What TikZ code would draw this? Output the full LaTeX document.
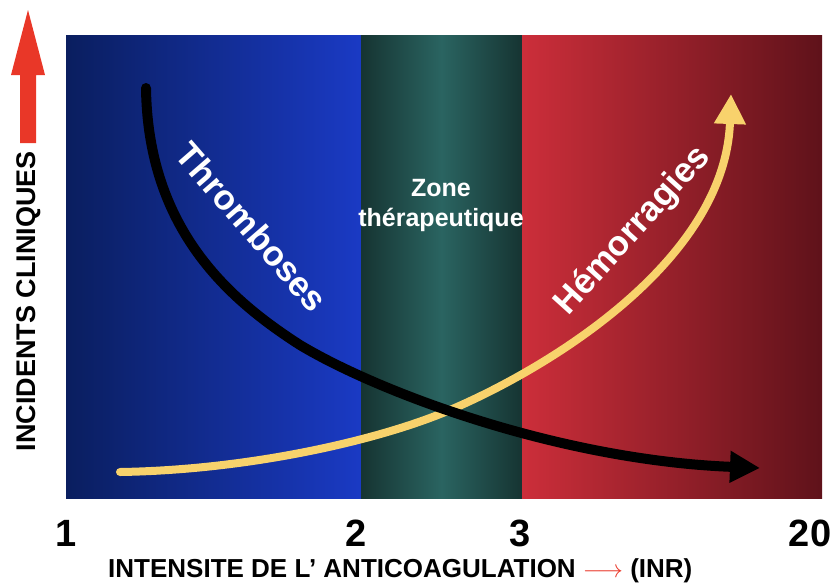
\documentclass[tikz,border=0pt]{standalone}
\usepackage{fontspec}
\setmainfont{Liberation Sans}
\usepackage{tikz}
\usetikzlibrary{arrows.meta}
\definecolor{BleuFonce}{RGB}{10,30,95}
\definecolor{BleuClair}{RGB}{26,58,196}
\definecolor{VertBord}{RGB}{22,52,50}
\definecolor{VertMilieu}{RGB}{42,100,97}
\definecolor{RougeClair}{RGB}{204,46,58}
\definecolor{RougeFonce}{RGB}{95,18,26}
\definecolor{Jaune}{RGB}{248,210,108}
\definecolor{RougeFleche}{RGB}{233,55,40}

\begin{document}
\begin{tikzpicture}[x=1pt, y=-1pt, >={Triangle[length=30pt,width=30pt]},
	legende/.style={text=white, font=\bfseries\fontsize{35}{40}\selectfont},
	graduation/.style={font=\bfseries\fontsize{38}{40}\selectfont}]
			\useasboundingbox (0,0) rectangle (840,584);
			\shade[left color=BleuFonce, right color=BleuClair] (66,35) rectangle (361,498);
			\shade[left color=VertBord, right color=VertBord, middle color=VertMilieu] (361,35) rectangle (522,498);
			\shade[left color=RougeClair, right color=RougeFonce] (522,35) rectangle (822,498);
			\fill[RougeFleche] (28,10) -- (45,75) -- (36,75) -- (36,143) -- (20,143) -- (20,75) -- (11,75) -- cycle;
			\node[rotate=90, font=\bfseries\fontsize{27}{30}\selectfont] (AxeY) at (29,301) {INCIDENTS CLINIQUES};
			\node[text=white, align=center, font=\bfseries\fontsize{25}{30}\selectfont] (Zone) at (441,205) {Zone\\thérapeutique};
			\coordinate (DebutH) at (120,472);
			\coordinate (FinH) at (731,94);
			\coordinate (DebutT) at (146,88);
			\coordinate (FinT) at (760,468);
			\draw[->, Jaune, line width=8pt, line cap=round] (DebutH) .. controls (250,470) and (380,440) .. (450,410) .. controls (551,367) and (725,260) .. (FinH);
			\draw[->, black, line width=10pt, line cap=round] (DebutT) .. controls (148,230) and (230,300) .. (300,345) .. controls (380,393) and (560,460) .. (FinT);
			\node[legende, rotate=-49] (Thromb) at (252,227) {Thromboses};
			\node[legende, rotate=48] (Hemor) at (633,231) {Hémorragies};
			\node[graduation] (Un) at (66,533) {1};
			\node[graduation] (Deux) at (356,533) {2};
			\node[graduation] (Trois) at (520,533) {3};
			\node[graduation] (Vingt) at (810,533) {20};
			\node[anchor=base west, inner sep=0pt, font=\bfseries\fontsize{26}{30}\selectfont] (AxeX) at (108,577) {INTENSITE DE L’ ANTICOAGULATION {\color{RougeFleche}$\longrightarrow$} (INR)};
		\end{tikzpicture}
\end{document}
